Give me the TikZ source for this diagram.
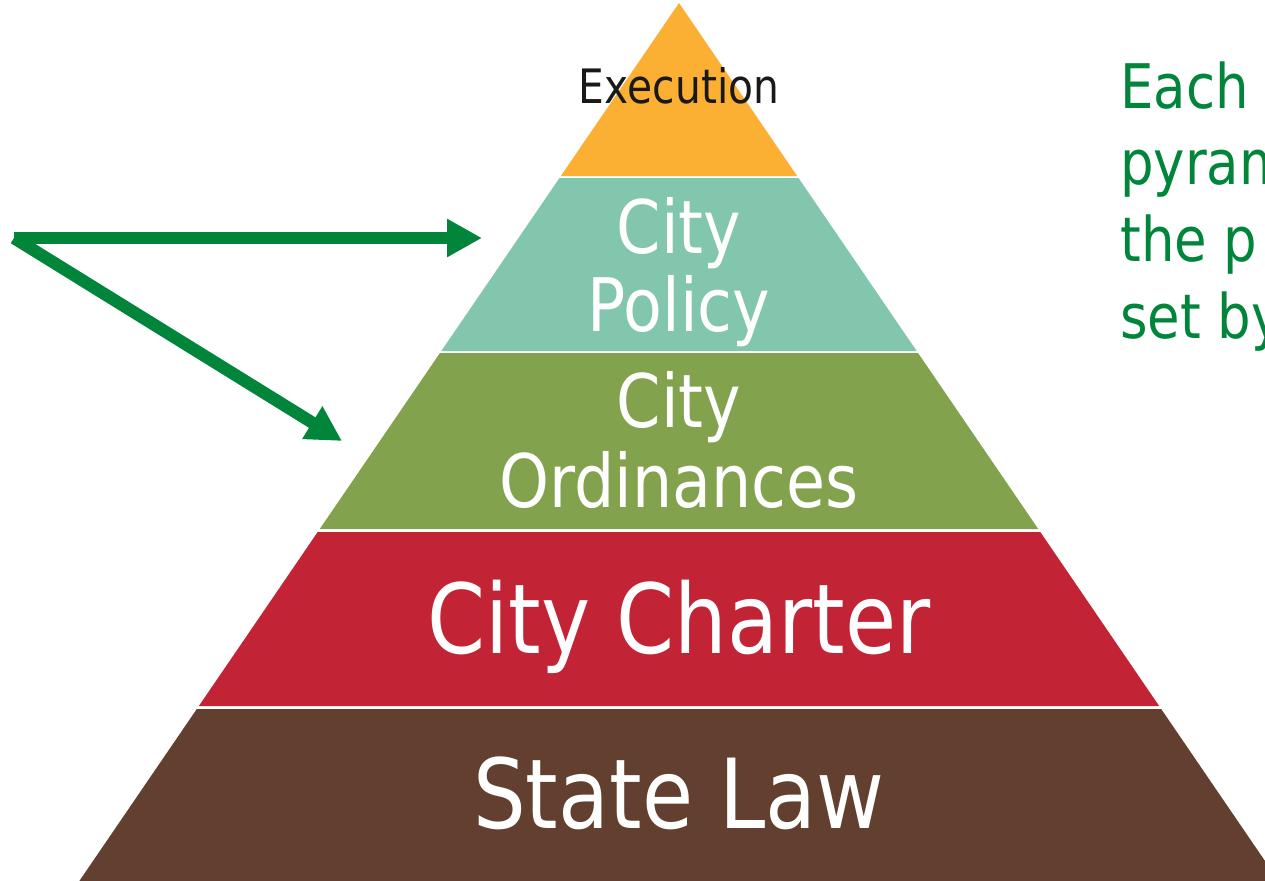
\documentclass[tikz,border=0pt]{standalone}
\usepackage{fontspec}
\usepackage{xcolor}
\newfontfamily\layerfont[FakeStretch=0.86]{DejaVu Sans}
\usetikzlibrary{arrows.meta}

\definecolor{execorange}{HTML}{FBB034}
\definecolor{policyteal}{HTML}{82C6AE}
\definecolor{ordgreen}{HTML}{83A24D}
\definecolor{charterred}{HTML}{C22436}
\definecolor{statebrown}{HTML}{623F2E}
\definecolor{notegreen}{HTML}{00853A}

\begin{document}
\begin{tikzpicture}[x = 0.02cm, y = -0.02cm,
		layerlabel/.style = {text = white, anchor = base, align = center, inner sep = 0pt},
		pointer/.style = {draw = notegreen, line width = 7pt, -{Triangle[length = 0.7cm, width = 0.72cm]}}]
						\useasboundingbox (0,0) rectangle (1265,880);
						\clip (0,0) rectangle (1265,880);
						\begin{scope}
							\foreach \ytop/\ybot/\col in {3/176/execorange, 178/351/policyteal, 353/529/ordgreen, 532/706/charterred, 709/895/statebrown}
								\fill [\col] ({679-0.683*(\ytop-3)},\ytop) -- ({679+0.683*(\ytop-3)},\ytop) -- ({679+0.683*(\ybot-3)},\ybot) -- ({679-0.683*(\ybot-3)},\ybot) -- cycle;
						\end{scope}
						% base anchor sits on the last line
						\begin{scope}[layerlabel]
							\node [text = black!90, font = {\layerfont\fontsize{27}{30}\selectfont}] (exec) at (679,103) {Execution};
							\node [font = {\layerfont\fontsize{42}{44}\selectfont}] (policy) at (679,331) {City\\Policy};
							\node [font = {\layerfont\fontsize{42}{45.5}\selectfont}] (ordin) at (679,507) {City\\Ordinances};
							\node [font = {\layerfont\fontsize{55}{60}\selectfont}] (charter) at (679,653) {City Charter};
							\node [font = {\layerfont\fontsize{55}{60}\selectfont}] (state) at (679,828) {State Law};
						\end{scope}
						\node [anchor = base west, align = left, inner sep = 0pt, text = notegreen, font = {\layerfont\fontsize{35}{43.6}\selectfont}] (note) at (1120,338) {Each\\pyram\\the p\\set by};
						\begin{scope}
							\coordinate (src) at (14,238);
							\coordinate (policytip) at (482,238);
							\coordinate (ordtip) at (342,441);
							\draw [pointer] (src) -- (policytip);
							\draw [pointer] (src) -- (ordtip);
						\end{scope}
					\end{tikzpicture}
\end{document}
